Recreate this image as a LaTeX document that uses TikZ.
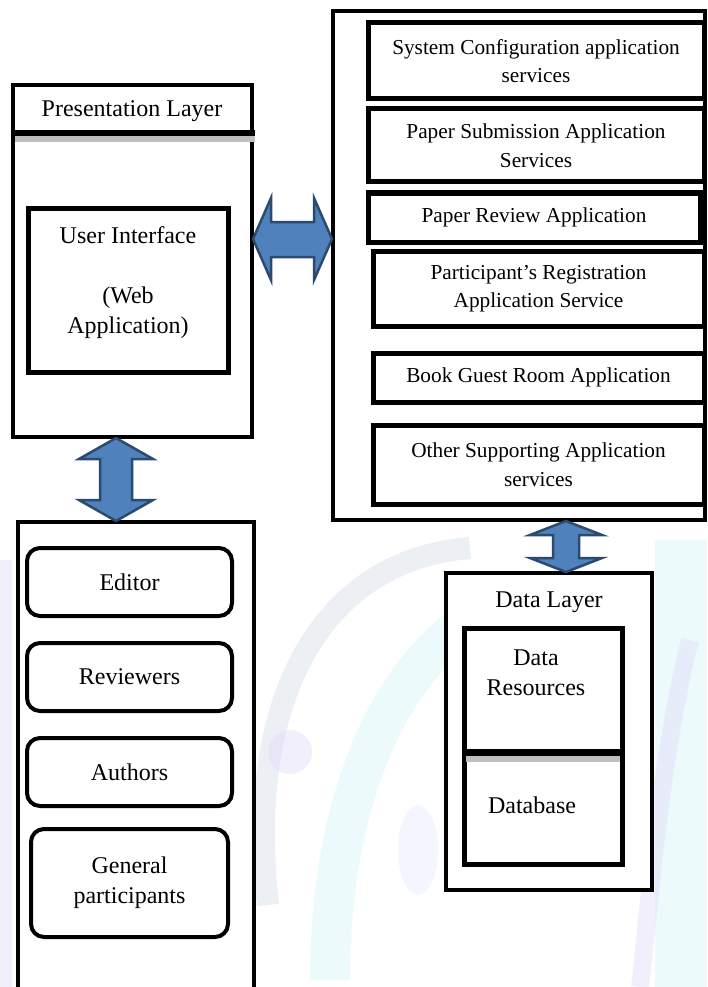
\documentclass[tikz,border=0pt]{standalone}
\usepackage{fontspec}
\setmainfont{Liberation Serif}
\usetikzlibrary{calc}
\definecolor{arrfill}{HTML}{4F81BD}
\definecolor{arrline}{HTML}{2C4A70}
\definecolor{wmcyan}{HTML}{D6F4FA}
\definecolor{wmlav}{HTML}{E2DCFA}
\definecolor{wmgray}{HTML}{D5DEE8}
\newcommand\hdarrow[2]{%
  \draw[blockarrow] (#1) -- ($(#1)+(18,-41)$) -- ($(#1)+(18,-17)$) -- ($(#2)+(-18,-17)$)
   -- ($(#2)+(-18,-41)$) -- (#2) -- ($(#2)+(-18,41)$) -- ($(#2)+(-18,18)$)
   -- ($(#1)+(18,18)$) -- ($(#1)+(18,41)$) -- cycle;}
% #1 top tip, #2 bottom tip, #3 head length, #4 head half width, #5 shaft half width
\newcommand\vdarrow[5]{%
  \draw[blockarrow] (#1) -- ($(#1)+(#4,#3)$) -- ($(#1)+(#5,#3)$) -- ($(#2)+(#5,-#3)$)
   -- ($(#2)+(#4,-#3)$) -- (#2) -- ($(#2)+(-#4,-#3)$) -- ($(#2)+(-#5,-#3)$)
   -- ($(#1)+(-#5,#3)$) -- ($(#1)+(-#4,#3)$) -- cycle;}
\begin{document}
\begin{tikzpicture}[x=1pt,y=-1pt,
  bigtxt/.style={font=\fontsize{24}{30}\selectfont, align=center, inner sep=0pt},
  svctxt/.style={font=\fontsize{21.3}{28.5}\selectfont, align=center, inner sep=0pt},
  outerbox/.style={draw=black, line width=4pt, fill=white, inner sep=0pt, outer sep=0pt},
  thickbox/.style={draw=black, line width=5pt, fill=white, inner sep=0pt, outer sep=0pt},
  svcbox/.style={thickbox, svctxt},
  rbox/.style={draw=black, line width=4pt, fill=white, rounded corners=13pt, inner sep=0pt, outer sep=0pt, bigtxt},
  blockarrow/.style={draw=arrline, fill=arrfill, line width=2.5pt, line join=miter}]
\useasboundingbox (0,0) rectangle (707,987);
\fill[white] (0,0) rectangle (707,987);
% faint watermark
\begin{scope}[opacity=0.45]
  \fill[wmcyan] (655,540) rectangle (707,987);
  \fill[wmlav] (0,560) rectangle (12,987);
  \draw[wmcyan, line width=40pt] (330,980) .. controls (330,760) and (420,600) .. (560,590);
  \draw[wmgray, line width=22pt] (268,905) .. controls (245,700) and (320,560) .. (470,548);
  \draw[wmlav, line width=18pt] (640,987) .. controls (650,900) and (660,760) .. (690,640);
  \fill[wmlav] (290,752) circle (22);
  \fill[wmcyan!80!blue!30] (418,850) ellipse (20 and 45);
\end{scope}

% presentation layer
\node[outerbox, minimum width=239pt, minimum height=352pt] (pres) at (132.5,261) {};
\fill[gray!50] (15,136) rectangle (255,142);
\draw[line width=6pt] (11,133) -- (255,133);
\node[bigtxt] (prestitle) at (132,111) {Presentation Layer};
\node[thickbox, minimum width=200pt, minimum height=164pt] (ui) at (128,290) {};
\node[bigtxt, anchor=north] (uitext) at (128,226) {User Interface\\[30pt](Web\\Application)};

% application services
\node[outerbox, minimum width=372pt, minimum height=509pt] (apps) at (519,265.5) {};
\node[svcbox, minimum width=336pt, minimum height=76pt] (sys) at (536,61) {System Configuration application\\services};
\node[svcbox, minimum width=336pt, minimum height=73pt] (sub) at (536,145.5) {Paper Submission Application\\Services};
\node[svcbox, minimum width=332pt, minimum height=49pt] (rev) at (534,217.5) {Paper Review Application};
\node[svcbox, minimum width=331pt, minimum height=75pt] (reg) at (538.5,288.5) {Participant’s Registration\\Application Service};
\node[svcbox, minimum width=331pt, minimum height=49pt] (book) at (538.5,377.5) {Book Guest Room Application};
\node[svcbox, minimum width=331pt, minimum height=79pt] (other) at (538.5,464.5) {Other Supporting Application\\services};

% users
\node[outerbox, minimum width=236pt, minimum height=470pt] (users) at (136,757) {};
\node[rbox, minimum width=205pt, minimum height=68pt] (editor) at (129.5,582) {Editor};
\node[rbox, minimum width=205pt, minimum height=68pt] (reviewers) at (129.5,677) {Reviewers};
\node[rbox, minimum width=205pt, minimum height=68pt] (authors) at (129.5,772) {Authors};
\node[rbox, minimum width=197pt, minimum height=108pt] (general) at (129.5,883) {General\\participants};

% data layer
\node[outerbox, minimum width=206pt, minimum height=317pt] (data) at (549,731.5) {};
\node[bigtxt] (datatitle) at (549,602) {Data Layer};
\node[thickbox, minimum width=158pt, minimum height=236pt] (dres) at (543,746) {};
\fill[gray!50] (466,756) rectangle (620,762);
\draw[line width=7pt] (461.5,752) -- (624.5,752);
\node[bigtxt] (dresText) at (536,673) {Data\\Resources};
\node[bigtxt] (dbText) at (532,805) {Database};

% block arrows
\coordinate (hl) at ($(pres.east)+(1,-22)$);
\coordinate (hr) at ($(apps.west)+(-1,-26.5)$);
\hdarrow{hl}{hr}
\coordinate (vlt) at ($(pres.south)+(-16.5,1)$);
\coordinate (vlb) at ($(users.north)+(-20,-1)$);
\vdarrow{vlt}{vlb}{21}{37}{16}
\coordinate (vrt) at ($(apps.south)+(47,1)$);
\coordinate (vrb) at ($(data.north)+(17,-1)$);
\vdarrow{vrt}{vrb}{14}{36}{13}
\end{tikzpicture}
\end{document}
